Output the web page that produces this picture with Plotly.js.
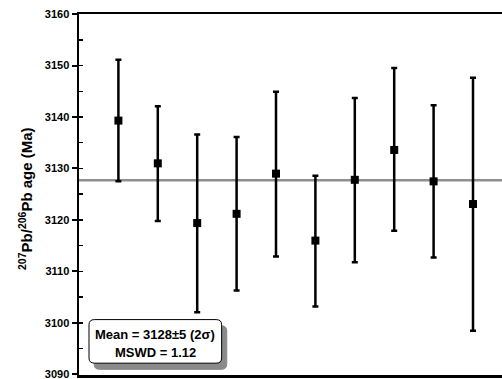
<!DOCTYPE html>
<html>
<head>
<meta charset="utf-8">
<script src="https://cdn.plot.ly/plotly-3.0.1.min.js"></script>
<style>html,body{margin:0;padding:0;background:#fff;}#chart{width:502px;height:379px;}</style>
</head>
<body>
<div id="chart"></div>
<script>
// Analysis number (1..10)
var spots = [1, 2, 3, 4, 5, 6, 7, 8, 9, 10];
// 207Pb/206Pb ages (Ma)
var ages = [3139.3, 3131.0, 3119.4, 3121.2, 3129.0, 3116.0, 3127.8, 3133.6, 3127.5, 3123.1];
// upper and lower ends of the 2-sigma error bars (Ma)
var upperAge = [3151.1, 3142.1, 3136.6, 3136.1, 3144.9, 3128.6, 3143.7, 3149.5, 3142.3, 3147.6];
var lowerAge = [3127.5, 3119.8, 3102.1, 3106.3, 3112.9, 3103.2, 3111.8, 3117.9, 3112.7, 3098.5];
// weighted mean
var meanAge = 3127.7;
var meanText = "Mean = 3128\u00b15 (2\u03c3)";
var mswdText = "MSWD = 1.12";
var yTicks = [3090, 3100, 3110, 3120, 3130, 3140, 3150, 3160];

var errPlus = upperAge.map(function (u, i) { return u - ages[i]; });
var errMinus = lowerAge.map(function (l, i) { return ages[i] - l; });

var FONT = "Liberation Sans, Arial, sans-serif";
var YR = [3089.9, 3160];

var trace = {
  x: spots, y: ages, type: "scatter", mode: "markers",
  marker: {symbol: "square", size: 8, color: "#000"},
  error_y: {type: "data", symmetric: false, array: errPlus, arrayminus: errMinus,
            color: "#000", thickness: 2.5, width: 3},
  showlegend: false, hoverinfo: "none"
};
// invisible trace on the overlay axis so its inside ticks are drawn
var tickTrace = {x: [spots[0]], y: [ages[0]], yaxis: "y2", type: "scatter", mode: "markers",
  marker: {opacity: 0}, showlegend: false, hoverinfo: "none"};

// box geometry (data units)
var bx0 = 0.254, bx1 = 3.62, by0 = 3092.2, by1 = 3100.66;
var rx = 0.14, ry = 1.0;
function roundRect(x0, x1, y0, y1) {
  return "M" + (x0 + rx) + "," + y1 + " L" + (x1 - rx) + "," + y1 +
    " Q" + x1 + "," + y1 + " " + x1 + "," + (y1 - ry) +
    " L" + x1 + "," + (y0 + ry) +
    " Q" + x1 + "," + y0 + " " + (x1 - rx) + "," + y0 +
    " L" + (x0 + rx) + "," + y0 +
    " Q" + x0 + "," + y0 + " " + x0 + "," + (y0 + ry) +
    " L" + x0 + "," + (y1 - ry) +
    " Q" + x0 + "," + y1 + " " + (x0 + rx) + "," + y1 + " Z";
}
var sdx = 0.13, sdy = 1.2;

var layout = {
  width: 502, height: 379,
  margin: {l: 79, r: 0, t: 14, b: 4},
  paper_bgcolor: "#fff", plot_bgcolor: "#fff",
  font: {family: FONT, color: "#000"},
  xaxis: {range: [0, 10.736], showgrid: false, zeroline: false, showticklabels: false,
          ticks: "", showline: true, linecolor: "#000", linewidth: 2.5, mirror: true,
          fixedrange: true},
  yaxis: {range: YR, tickvals: yTicks, ticktext: yTicks.map(String),
          showgrid: false, zeroline: false, ticks: "outside", ticklen: 5, tickwidth: 2,
          tickcolor: "#000", showline: true, linecolor: "#000", linewidth: 2.5,
          ticklabeloverflow: "allow",
          tickfont: {family: FONT, size: 11, weight: "bold", color: "#000"},
          title: {text: ""}, fixedrange: true},
  yaxis2: {overlaying: "y", range: YR, tickmode: "linear", tick0: 3090, dtick: 5,
           ticks: "inside", ticklen: 4, tickwidth: 1.5, tickcolor: "#000",
           showticklabels: false, showline: false, showgrid: false, zeroline: false,
           side: "left", fixedrange: true},
  shapes: [
    {type: "line", xref: "paper", x0: 0, x1: 1, yref: "y", y0: meanAge, y1: meanAge,
     line: {color: "#8f8f8f", width: 2.5}, layer: "below"},
    {type: "path", xref: "x", yref: "y", path: roundRect(bx0 + sdx, bx1 + sdx, by0 - sdy, by1 - sdy),
     fillcolor: "#8a8a8a", line: {color: "#8a8a8a", width: 1}},
    {type: "path", xref: "x", yref: "y", path: roundRect(bx0, bx1, by0, by1),
     fillcolor: "#fff", line: {color: "#000", width: 1}}
  ],
  annotations: [
    {xref: "paper", yref: "paper", x: -0.128, y: 0.49, xanchor: "center", yanchor: "middle",
     textangle: -90, showarrow: false,
     text: "<sup>207</sup>Pb/<sup>206</sup>Pb age (Ma)",
     font: {family: FONT, size: 15, weight: "bold", color: "#000"}},
    {xref: "x", yref: "y", x: (bx0 + bx1) / 2, y: 3097.75, showarrow: false,
     xanchor: "center", yanchor: "middle", text: meanText,
     font: {family: FONT, size: 13, weight: "bold", color: "#000"}},
    {xref: "x", yref: "y", x: (bx0 + bx1) / 2, y: 3094.2, showarrow: false,
     xanchor: "center", yanchor: "middle", text: mswdText,
     font: {family: FONT, size: 13, weight: "bold", color: "#000"}}
  ]
};

Plotly.newPlot("chart", [trace, tickTrace], layout, {staticPlot: true, displayModeBar: false});
</script>
</body>
</html>
